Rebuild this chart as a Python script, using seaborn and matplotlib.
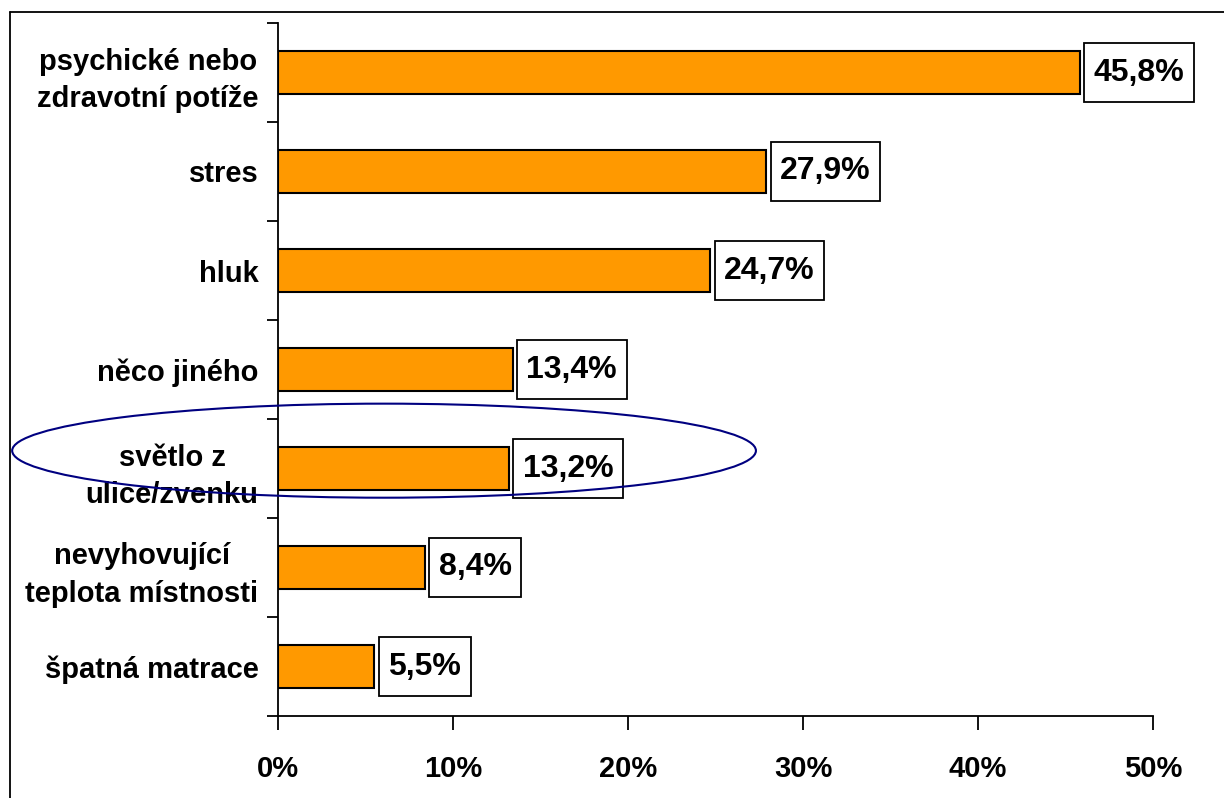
import numpy as np
import pandas as pd
import matplotlib
matplotlib.use("Agg")
import matplotlib.pyplot as plt
import seaborn as sns
from matplotlib.patches import Ellipse
from matplotlib.lines import Line2D

# data
categories = ["psychické nebo\nzdravotní potíže", "stres", "hluk", "něco jiného",
              "světlo z\nulice/zvenku", "nevyhovující\nteplota místnosti", "špatná matrace"]
values = [45.8, 27.9, 24.7, 13.4, 13.2, 8.4, 5.5]
value_labels = ["45,8%", "27,9%", "24,7%", "13,4%", "13,2%", "8,4%", "5,5%"]
x_ticks = [0, 10, 20, 30, 40, 50]
x_tick_labels = ["0%", "10%", "20%", "30%", "40%", "50%"]

df = pd.DataFrame({"kategorie": categories, "podil": values})

sns.set_style("white")
plt.rcParams["font.family"] = ["Liberation Sans", "DejaVu Sans"]
plt.rcParams["text.color"] = "black"
plt.rcParams["xtick.color"] = "black"
plt.rcParams["ytick.color"] = "black"
plt.rcParams["axes.labelcolor"] = "black"

fig = plt.figure(figsize=(12.24, 7.98), dpi=100)
ax = fig.add_axes([278 / 1224, 1 - 716 / 798, (1153 - 278) / 1224, (716 - 23) / 798])

sns.barplot(data=df, x="podil", y="kategorie", orient="h", color="#FF9900",
            saturation=1, edgecolor="black", linewidth=1.5, width=0.43, ax=ax)

ax.set_xlim(0, 50)
ax.set_ylim(len(categories) - 0.5, -0.5)
ax.set_xlabel("")
ax.set_ylabel("")

# x axis
ax.set_xticks(x_ticks)
ax.set_xticklabels(x_tick_labels, fontsize=21, fontweight="bold")
ax.tick_params(axis="x", bottom=True, direction="out", length=10, width=1.3, pad=18, color="black")

# y axis: ticks at category borders, labels at centers
ax.set_yticks(np.arange(len(categories)))
ax.set_yticklabels(categories, fontsize=21, fontweight="bold", ha="right",
                   multialignment="center", linespacing=1.45)
ax.set_yticks(np.arange(len(categories) + 1) - 0.5, minor=True)
ax.tick_params(axis="y", which="major", left=True, length=0, pad=14)
ax.tick_params(axis="y", which="minor", left=True, direction="out", length=8, width=1.3, color="black")

for s in ["top", "right"]:
    ax.spines[s].set_visible(False)
for s in ["left", "bottom"]:
    ax.spines[s].set_color("black")
    ax.spines[s].set_linewidth(1.3)

# value labels in boxes
for i, (v, lab) in enumerate(zip(values, value_labels)):
    ax.annotate(lab, xy=(v, i), xytext=(10, 0), textcoords="offset points",
                va="center", ha="left", fontsize=23, fontweight="bold",
                bbox=dict(boxstyle="square,pad=0.3", fc="white", ec="black", lw=1.3,
                          mutation_aspect=1.55),
                annotation_clip=False)

# ellipse highlighting one category
ell = Ellipse((6.06, 3.82), width=42.5, height=0.95, fill=False,
              edgecolor="#000080", linewidth=1.5, clip_on=False, zorder=10)
ax.add_patch(ell)

# partial frame around the chart
fig.add_artist(Line2D([10 / 1224, 1], [1 - 12 / 798, 1 - 12 / 798], color="black", lw=1.3))
fig.add_artist(Line2D([10 / 1224, 10 / 1224], [0, 1 - 12 / 798], color="black", lw=1.3))

fig.savefig("out.png", dpi=100)
